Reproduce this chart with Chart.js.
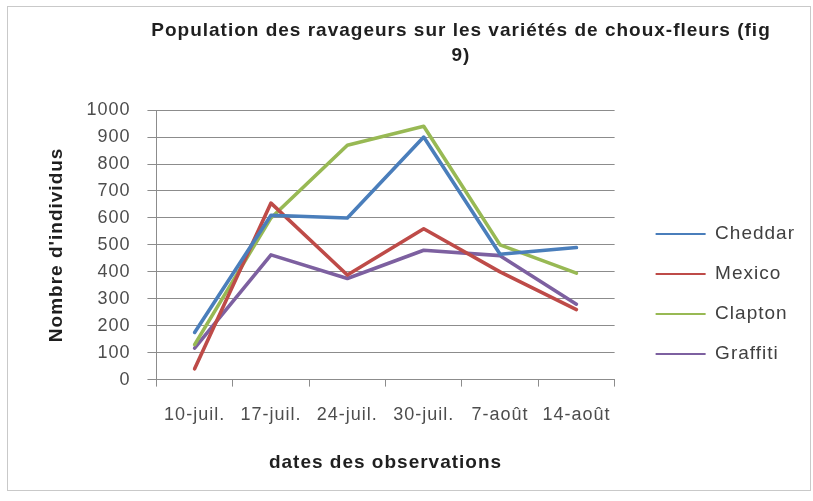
<!DOCTYPE html>
<html lang="fr">
<head>
<meta charset="utf-8">
<title>Population des ravageurs</title>
<script src="https://cdn.jsdelivr.net/npm/chart.js@4/dist/chart.umd.min.js"></script>
<style>
  html,body{margin:0;padding:0;background:#fff;}
  #wrap{position:absolute;left:7px;top:6px;width:802px;height:483px;border:1px solid #c9c9c9;}
  #chart{display:block;}
</style>
</head>
<body>
<div id="wrap"><canvas id="chart"></canvas></div>
<script>
const dates = ['10-juil.', '17-juil.', '24-juil.', '30-juil.', '7-août', '14-août'];
const cheddar  = [175, 610, 600, 900, 465, 490];
const mexico   = [40, 655, 388, 560, 400, 260];
const clapton  = [130, 600, 870, 940, 500, 395];
const graffiti = [117, 463, 375, 480, 460, 280];
const yTicks = [0, 100, 200, 300, 400, 500, 600, 700, 800, 900, 1000];

const FONT = 'Liberation Sans, Arial, sans-serif';
const serie = (label, data, color) => ({ label, data, borderColor: color, backgroundColor: color,
  borderWidth: 3.6, tension: 0, pointRadius: 0, borderJoinStyle: 'round', borderCapStyle: 'round' });

// texte un peu espacé comme l'export Excel
const spacing = c => { c.ctx.letterSpacing = '1px'; };

// décale le titre et la légende comme dans Excel
const nudge = {
  id: 'nudge',
  beforeUpdate: spacing,
  beforeDraw: spacing,
  afterLayout(c){
    const t = c.titleBlock; if (t) t.left += 129;
    const lg = c.legend; if (lg){ lg.left += 20; lg.right += 20; lg.top += 5; lg.bottom += 5; }
  }
};

new Chart(document.getElementById('chart'), {
  type: 'line',
  data: {
    labels: dates,
    datasets: [
      serie('Cheddar', cheddar, '#4a7ebb'),
      serie('Mexico', mexico, '#be4b48'),
      serie('Clapton', clapton, '#98b954'),
      serie('Graffiti', graffiti, '#7d60a0')
    ]
  },
  options: {
    responsive: true, maintainAspectRatio: false, animation: false,
    layout: { padding: { right: 25 } },
    plugins: {
      title: { display: true, text: ['Population des ravageurs sur les variétés de choux-fleurs (fig', '9)'],
        color: '#1f1f1f', font: { family: FONT, size: 19, weight: 'bold', lineHeight: 1.32 },
        padding: { top: 11, bottom: 42 } },
      legend: { position: 'right', align: 'end', fullSize: false,
        labels: { font: { family: FONT, size: 19 }, color: '#404040', padding: 21,
          usePointStyle: true, pointStyle: 'line', pointStyleWidth: 50,
          generateLabels: c => Chart.defaults.plugins.legend.labels.generateLabels(c).map(l => ({ ...l, lineWidth: 2 })) } },
      tooltip: { enabled: false }
    },
    scales: {
      x: {
        offset: true,
        grid: { offset: true, drawOnChartArea: false, drawTicks: true, tickLength: 7, color: '#8c8c8c' },
        border: { display: true, color: '#8c8c8c' },
        ticks: { color: '#4d4d4d', font: { family: FONT, size: 18 }, padding: 18, maxRotation: 0, autoSkip: false },
        title: { display: true, text: 'dates des observations', color: '#1f1f1f',
          font: { family: FONT, size: 19, weight: 'bold', lineHeight: 1.2 }, padding: { top: 7, bottom: 16 } }
      },
      y: {
        min: 0, max: 1000,
        afterBuildTicks: ax => { ax.ticks = yTicks.map(v => ({ value: v })); },
        grid: { color: '#8c8c8c', tickLength: 9, drawTicks: true },
        border: { display: true, color: '#8c8c8c' },
        ticks: { color: '#4d4d4d', font: { family: FONT, size: 18 }, padding: 17, callback: v => String(v) },
        title: { display: true, text: "Nombre d'individus", color: '#1f1f1f',
          font: { family: FONT, size: 19, weight: 'bold', lineHeight: 1.2 }, padding: { top: 37.6, bottom: 1 } }
      }
    }
  },
  plugins: [nudge]
});
</script>
</body>
</html>
